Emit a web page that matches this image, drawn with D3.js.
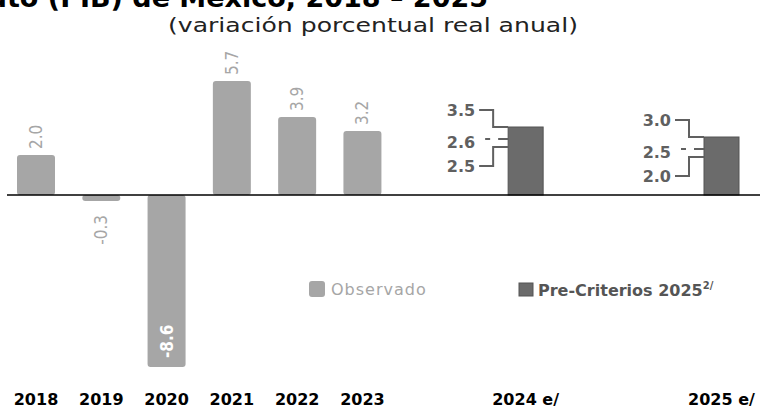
<!DOCTYPE html>
<html>
<head>
<meta charset="utf-8">
<script src="https://cdn.jsdelivr.net/npm/d3@7"></script>
<style>
  body { margin: 0; background: #fff; }
  svg { display: block; }
</style>
</head>
<body>
<script>
// observed data
var years = ["2018", "2019", "2020", "2021", "2022", "2023"];
var observed = [2.0, -0.3, -8.6, 5.7, 3.9, 3.2];

// Pre-Criterios estimates
var estYears = ["2024 e/", "2025 e/"];
var estBar = [3.4, 2.9];       // bar heights as drawn
var estHigh = ["3.5", "3.0"];
var estMid = ["2.6", "2.5"];
var estLow = ["2.5", "2.0"];

var width = 762, height = 408;

var svg = d3.select("body").append("svg")
    .attr("width", width)
    .attr("height", height);

// slot index -> x center; forecast slots sit after a gap
var xScale = d3.scaleLinear().domain([0, 10.5]).range([36, 721.5]);
var yScale = d3.scaleLinear().domain([-10, 8]).range([395, 35]);
function estSlot(i) { return 7.5 + 3 * i; }

var grey = "#a6a6a6", dark = "#6b6b6b";

// title (cut at the top in the reference)
svg.append("text")
    .attr("x", 488).attr("y", 7)
    .attr("text-anchor", "end")
    .style("font-family", "DejaVu Sans")
    .style("font-weight", "bold")
    .style("font-size", "27px")
    .style("fill", "#000")
    .text("Producto Interno Bruto (PIB) de México, 2018 – 2025");

svg.append("text")
    .attr("x", 373).attr("y", 32)
    .attr("text-anchor", "middle")
    .attr("textLength", 410)
    .attr("lengthAdjust", "spacingAndGlyphs")
    .style("font-family", "DejaVu Sans")
    .style("font-size", "20px")
    .style("fill", "#222")
    .text("(variación porcentual real anual)");

// observed bars
var bw = 38;
svg.selectAll(".obs")
    .data(observed)
  .enter().append("rect")
    .attr("class", "obs")
    .attr("x", function(d, i) { return xScale(i) - bw / 2; })
    .attr("y", function(d) { return yScale(Math.max(0, d)); })
    .attr("width", bw)
    .attr("height", function(d) { return Math.abs(yScale(d) - yScale(0)); })
    .attr("rx", 3)
    .style("fill", grey);

// value labels (rotated)
svg.selectAll(".val")
    .data(observed)
  .enter().append("text")
    .attr("class", "val")
    .attr("transform", function(d, i) {
        var y;
        if (d >= 0) y = yScale(d) - 6;
        else if (d > -2) y = yScale(d) + 14;
        else y = yScale(d) - 9;
        return "translate(" + (xScale(i) + 6) + "," + y + ") rotate(-90)";
    })
    .attr("text-anchor", function(d) { return (d < 0 && d > -2) ? "end" : "start"; })
    .style("font-family", "DejaVu Sans Condensed, DejaVu Sans")
    .style("font-size", "17px")
    .style("font-weight", function(d) { return d < -2 ? "bold" : "normal"; })
    .style("fill", function(d) { return d < -2 ? "#fff" : grey; })
    .text(function(d) { return d.toFixed(1); });

// estimate bars
var ew = 35;
svg.selectAll(".est")
    .data(estBar)
  .enter().append("rect")
    .attr("class", "est")
    .attr("x", function(d, i) { return xScale(estSlot(i)) - ew / 2; })
    .attr("y", function(d) { return yScale(d); })
    .attr("width", ew)
    .attr("height", function(d) { return yScale(0) - yScale(d); })
    .style("fill", dark)
    .style("stroke", "#555")
    .style("stroke-width", 1);

// range brackets
estBar.forEach(function(d, i) {
    var left = xScale(estSlot(i)) - ew / 2,
        top = yScale(d),
        elbow = left - 15,
        lx = left - 33;
    var g = svg.append("g")
        .style("stroke", "#606060")
        .style("stroke-width", 2)
        .style("fill", "none");
    var yHi = top - 17, yMid = top + 12, yLo = top + 39, yLoTop = top + 20;
    g.append("path").attr("d", "M" + (lx + 4) + "," + yHi + "H" + elbow + "V" + top + "H" + left);
    g.append("path").attr("d", "M" + (lx + 10) + "," + yMid + "h5M" + (elbow + 5) + "," + yMid + "H" + left);
    g.append("path").attr("d", "M" + left + "," + yLoTop + "H" + elbow + "V" + yLo + "H" + (lx + 4));
    var labs = [[estHigh[i], yHi], [estMid[i], yMid + 3], [estLow[i], yLo]];
    labs.forEach(function(l) {
        svg.append("text")
            .attr("x", lx).attr("y", l[1] + 6)
            .attr("text-anchor", "end")
            .style("font-family", "DejaVu Sans")
            .style("font-weight", "bold")
            .style("font-size", "16px")
            .style("fill", "#606060")
            .text(l[0]);
    });
});

// zero line
svg.append("line")
    .attr("x1", 7).attr("x2", 760)
    .attr("y1", yScale(0)).attr("y2", yScale(0))
    .style("stroke", "#000")
    .style("stroke-width", 1.5);

// category labels
var xlabels = years.map(function(y, i) { return {t: y, x: xScale(i)}; })
    .concat(estYears.map(function(y, i) { return {t: y, x: xScale(estSlot(i))}; }));
svg.selectAll(".xl")
    .data(xlabels)
  .enter().append("text")
    .attr("class", "xl")
    .attr("x", function(d) { return d.x; })
    .attr("y", 405)
    .attr("text-anchor", "middle")
    .style("font-family", "DejaVu Sans")
    .style("font-weight", "bold")
    .style("font-size", "16px")
    .style("fill", "#000")
    .text(function(d) { return d.t; });

// legend
svg.append("rect")
    .attr("x", 309).attr("y", 281).attr("width", 16).attr("height", 16).attr("rx", 3)
    .style("fill", grey);
svg.append("text")
    .attr("x", 331).attr("y", 295)
    .style("font-family", "DejaVu Sans")
    .style("font-size", "16px")
    .style("letter-spacing", "1px")
    .style("fill", grey)
    .text("Observado");

svg.append("rect")
    .attr("x", 519).attr("y", 283).attr("width", 14).attr("height", 13)
    .style("fill", dark).style("stroke", "#555");
var lt = svg.append("text")
    .attr("x", 538).attr("y", 296)
    .style("font-family", "DejaVu Sans")
    .style("font-weight", "bold")
    .style("font-size", "16px")
    .style("fill", "#555");
lt.append("tspan").text("Pre-Criterios 2025");
lt.append("tspan").attr("dy", -7).style("font-size", "10px").text("2/");
</script>
</body>
</html>
